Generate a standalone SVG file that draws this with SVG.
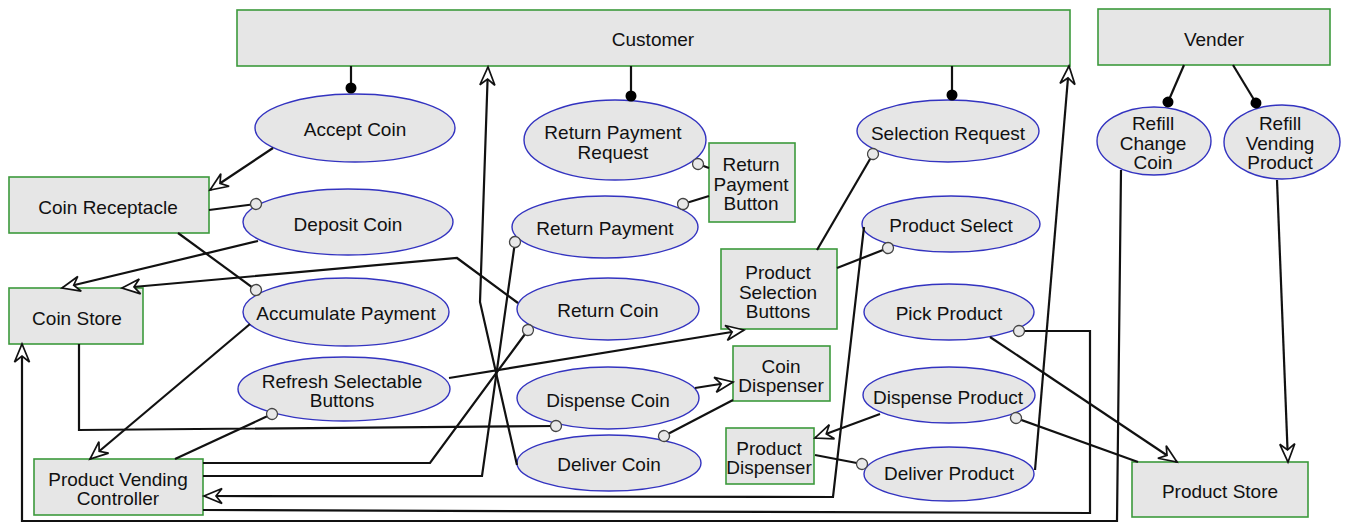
<svg xmlns="http://www.w3.org/2000/svg" width="1347" height="525" viewBox="0 0 1347 525">
  <style>
    .box { fill: #e6e6e6; stroke: #3c9a3c; stroke-width: 1.6; }
    .uc { fill: #e6e6e6; stroke: #3333c0; stroke-width: 1.4; }
    .lbl { font-family: "Liberation Sans", Arial, sans-serif; font-size: 19px; fill: #111; text-anchor: middle; dominant-baseline: central; }
    .c { fill: none; stroke: #111; stroke-width: 2.2; stroke-linejoin: miter; }
    .arr { marker-end: url(#arrow); }
    .dot { marker-end: url(#dot); }
    .ring { marker-end: url(#ring); }
  </style>
  <defs>
    <marker id="arrow" markerUnits="userSpaceOnUse" markerWidth="22" markerHeight="18" refX="19" refY="8" orient="auto" overflow="visible">
      <path d="M1,0.5 L19,8 L1,15.5 L7,8 Z" fill="#fff" stroke="#111" stroke-width="1.7"/>
    </marker>
    <marker id="dot" markerUnits="userSpaceOnUse" markerWidth="14" markerHeight="14" refX="7" refY="7" orient="auto" overflow="visible">
      <circle cx="7" cy="7" r="5.5" fill="#000"/>
    </marker>
    <marker id="ring" markerUnits="userSpaceOnUse" markerWidth="14" markerHeight="14" refX="7" refY="7" orient="auto" overflow="visible">
      <circle cx="7" cy="7" r="5.5" fill="#e8e8e8" stroke="#444" stroke-width="1.3"/>
    </marker>
  </defs>
  <rect width="1347" height="525" fill="#fff"/>

  <!-- actors and devices -->
  <g id="customer"><rect class="box" x="237" y="10" width="833" height="56"/><text class="lbl" x="653" y="39">Customer</text></g>
  <g id="vender"><rect class="box" x="1098" y="9" width="232" height="56"/><text class="lbl" x="1214" y="39">Vender</text></g>
  <g id="coin-receptacle"><rect class="box" x="9" y="177" width="200" height="56"/><text class="lbl" x="108" y="207">Coin Receptacle</text></g>
  <g id="coin-store"><rect class="box" x="9" y="288" width="134" height="56"/><text class="lbl" x="77" y="318">Coin Store</text></g>
  <g id="product-vending-controller"><rect class="box" x="34" y="459" width="169" height="56"/><text class="lbl" x="118" y="479">Product Vending</text><text class="lbl" x="118" y="498">Controller</text></g>
  <g id="return-payment-button"><rect class="box" x="709" y="143" width="86" height="79"/><text class="lbl" x="751" y="164">Return</text><text class="lbl" x="751" y="184">Payment</text><text class="lbl" x="751" y="203">Button</text></g>
  <g id="product-selection-buttons"><rect class="box" x="721" y="249" width="116" height="80"/><text class="lbl" x="778" y="272">Product</text><text class="lbl" x="778" y="292">Selection</text><text class="lbl" x="778" y="311">Buttons</text></g>
  <g id="coin-dispenser"><rect class="box" x="733" y="346" width="97" height="55"/><text class="lbl" x="781" y="366">Coin</text><text class="lbl" x="781" y="385">Dispenser</text></g>
  <g id="product-dispenser"><rect class="box" x="726" y="428" width="88" height="56"/><text class="lbl" x="769" y="448">Product</text><text class="lbl" x="769" y="467">Dispenser</text></g>
  <g id="product-store"><rect class="box" x="1132" y="462" width="176" height="55"/><text class="lbl" x="1220" y="491">Product Store</text></g>

  <!-- use cases -->
  <g id="accept-coin"><ellipse class="uc" cx="355" cy="128" rx="100" ry="34"/><text class="lbl" x="355" y="129">Accept Coin</text></g>
  <g id="deposit-coin"><ellipse class="uc" cx="348" cy="222" rx="105" ry="33"/><text class="lbl" x="348" y="224">Deposit Coin</text></g>
  <g id="accumulate-payment"><ellipse class="uc" cx="346" cy="312" rx="103" ry="34"/><text class="lbl" x="346" y="313">Accumulate Payment</text></g>
  <g id="refresh-selectable-buttons"><ellipse class="uc" cx="344" cy="389" rx="106" ry="32"/><text class="lbl" x="342" y="381">Refresh Selectable</text><text class="lbl" x="342" y="400">Buttons</text></g>
  <g id="return-payment-request"><ellipse class="uc" cx="615" cy="140" rx="91" ry="40"/><text class="lbl" x="613" y="132">Return Payment</text><text class="lbl" x="613" y="152">Request</text></g>
  <g id="return-payment"><ellipse class="uc" cx="605" cy="227" rx="93" ry="31"/><text class="lbl" x="605" y="228">Return Payment</text></g>
  <g id="return-coin"><ellipse class="uc" cx="608" cy="309" rx="91" ry="31"/><text class="lbl" x="608" y="310">Return Coin</text></g>
  <g id="dispense-coin"><ellipse class="uc" cx="608" cy="398" rx="91" ry="31"/><text class="lbl" x="608" y="400">Dispense Coin</text></g>
  <g id="deliver-coin"><ellipse class="uc" cx="609" cy="463" rx="92" ry="28"/><text class="lbl" x="609" y="464">Deliver Coin</text></g>
  <g id="selection-request"><ellipse class="uc" cx="948" cy="131" rx="91" ry="31"/><text class="lbl" x="948" y="133">Selection Request</text></g>
  <g id="product-select"><ellipse class="uc" cx="951" cy="224" rx="89" ry="28"/><text class="lbl" x="951" y="225">Product Select</text></g>
  <g id="pick-product"><ellipse class="uc" cx="949" cy="312" rx="85" ry="28"/><text class="lbl" x="949" y="313">Pick Product</text></g>
  <g id="dispense-product"><ellipse class="uc" cx="949" cy="395" rx="86" ry="28"/><text class="lbl" x="948" y="397">Dispense Product</text></g>
  <g id="deliver-product"><ellipse class="uc" cx="949" cy="474" rx="85" ry="27"/><text class="lbl" x="949" y="473">Deliver Product</text></g>
  <g id="refill-change-coin"><ellipse class="uc" cx="1154" cy="141" rx="57" ry="34"/><text class="lbl" x="1153" y="123">Refill</text><text class="lbl" x="1153" y="143">Change</text><text class="lbl" x="1153" y="162">Coin</text></g>
  <g id="refill-vending-product"><ellipse class="uc" cx="1282" cy="142" rx="58" ry="37"/><text class="lbl" x="1280" y="123">Refill</text><text class="lbl" x="1280" y="143">Vending</text><text class="lbl" x="1280" y="162">Product</text></g>

  <!-- connectors -->
  <g id="connectors">
    <path class="c dot" d="M351,66 L351,88"/>
    <path class="c dot" d="M631,66 L631,96"/>
    <path class="c dot" d="M952,66 L952,95"/>
    <path class="c dot" d="M1184,65 L1168,102"/>
    <path class="c dot" d="M1233,65 L1256,103"/>

    <path class="c arr" d="M273,148 L210,190"/>
    <path class="c ring" d="M209,210 L256,204"/>
    <path class="c arr" d="M258,241 L62,288"/>
    <path class="c ring" d="M178,233 L256,290"/>
    <path class="c arr" d="M518,303 L457,258 L122,288"/>
    <path class="c arr" d="M250,324 L90,459"/>
    <path class="c ring" d="M175,459 L272,414"/>
    <path class="c arr" d="M449,378 L744,330"/>
    <path class="c ring" d="M79,344 L79,430 L556,426"/>
    <path class="c ring" d="M203,463 L430,463 L528,330"/>
    <path class="c ring" d="M203,476 L482,476 L515,242"/>
    <path class="c arr" d="M517,465 L480,302 L488,67"/>

    <path class="c ring" d="M709,168 L698,164"/>
    <path class="c ring" d="M709,196 L683,204"/>
    <path class="c ring" d="M817,250 L873,154"/>
    <path class="c ring" d="M837,268 L888,248"/>
    <path class="c arr" d="M695,388 L733,382"/>
    <path class="c ring" d="M733,400 L664,436"/>
    <path class="c arr" d="M880,414 L815,438"/>
    <path class="c ring" d="M815,455 L862,464"/>
    <path class="c arr" d="M864,227 L833,497 L204,496"/>
    <path class="c ring" d="M203,510 L1090,513 L1090,331 L1019,331"/>
    <path class="c arr" d="M990,337 L1177,462"/>
    <path class="c ring" d="M1138,462 L1016,418"/>
    <path class="c arr" d="M1035,470 L1069,66"/>

    <path class="c arr" d="M1277,180 L1288,462"/>
    <path class="c arr" d="M1121,170 L1117,521 L22,521 L22,344"/>
  </g>
</svg>
